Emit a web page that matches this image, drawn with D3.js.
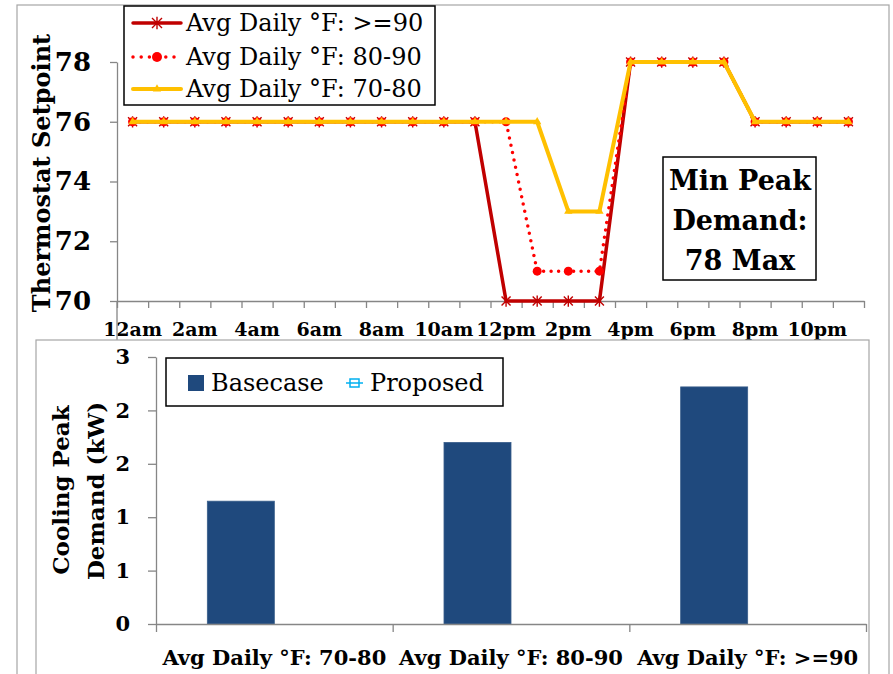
<!DOCTYPE html>
<html><head><meta charset="utf-8">
<script src="https://cdn.jsdelivr.net/npm/d3@7"></script>
<style>
html,body{margin:0;padding:0;background:#fff;}
svg text{font-family:"DejaVu Serif",serif;fill:#000;}
</style></head>
<body><svg id="c" width="893" height="674"></svg>
<script>
// ---------- data ----------
const hourCategories = ["12am","1am","2am","3am","4am","5am","6am","7am","8am","9am","10am","11am",
  "12pm","1pm","2pm","3pm","4pm","5pm","6pm","7pm","8pm","9pm","10pm","11pm"];
const hourTickLabels = ["12am","2am","4am","6am","8am","10am","12pm","2pm","4pm","6pm","8pm","10pm"];
const setpointGe90 = [76,76,76,76,76,76,76,76,76,76,76,76,70,70,70,70,78,78,78,78,76,76,76,76];
const setpoint8090 = [76,76,76,76,76,76,76,76,76,76,76,76,76,71,71,71,78,78,78,78,76,76,76,76];
const setpoint7080 = [76,76,76,76,76,76,76,76,76,76,76,76,76,76,73,73,78,78,78,78,76,76,76,76];
const seriesNames = ["Avg Daily °F: >=90","Avg Daily °F: 80-90","Avg Daily °F: 70-80"];
const setpointTicks = [70,72,74,76,78];

const demandCategories = ["Avg Daily °F: 70-80","Avg Daily °F: 80-90","Avg Daily °F: >=90"];
const barSeries = ["Basecase","Proposed"];
const basecaseKW = [1.15,1.70,2.22];
const proposedKW = [null,null,null];
const demandTickValues = [0,0.5,1,1.5,2,2.5];
const demandTickLabels = ["0","1","1","2","2","3"];
const annotationLines = ["Min Peak","Demand:","78 Max"];

// ---------- drawing ----------
const svg = d3.select("#c");
const gray = "#868686";
const colors = ["#C00000","#FF0000","#FFC000"];

// outer frame (top chart)
svg.append("rect").attr("x",17).attr("y",5).attr("width",872).attr("height",720)
  .attr("fill","#fff").attr("stroke","#A6A6A6").attr("stroke-width",1.2);

// ===== TOP CHART =====
const x = d3.scaleBand().domain(hourCategories).range([117,864]).padding(0);
const xB = d3.scaleLinear().domain([0,hourCategories.length]).range([117,864]);
const y = d3.scaleLinear().domain([70,78]).range([301,62]);
const cx = c => x(c) + x.bandwidth()/2;

// y axis
const gy = svg.append("g").attr("transform","translate(117,0)")
  .call(d3.axisLeft(y).tickValues(setpointTicks).tickSize(7).tickSizeOuter(0).tickPadding(19));
gy.selectAll("text").style("font-size","26px").style("font-weight","bold");
// x axis boundary ticks
const gxt = svg.append("g").attr("transform","translate(0,301)")
  .call(d3.axisBottom(xB).tickValues(d3.range(hourCategories.length+1)).tickSize(7).tickSizeOuter(0).tickFormat(""));
// x labels
const gx = svg.append("g").attr("transform","translate(0,301)")
  .call(d3.axisBottom(x).tickValues(hourTickLabels).tickSize(0).tickPadding(22));
gx.select(".domain").remove();
gx.selectAll("text").style("font-size","19px").style("font-weight","bold");
[gy,gxt].forEach(g=>{g.selectAll("path,line").attr("stroke",gray).attr("stroke-width",1.3);});
// stray vertical line below axis
svg.append("line").attr("x1",117).attr("x2",117).attr("y1",301).attr("y2",340).attr("stroke",gray).attr("stroke-width",1.3);

// y title
svg.append("text").attr("transform","translate(41,173) rotate(-90)")
  .attr("text-anchor","middle").attr("dominant-baseline","central")
  .style("font-size","24px").style("font-weight","bold").text("Thermostat Setpoint");

const line = d3.line().x((d,i)=>cx(hourCategories[i])).y(d=>y(d));

function starPath(r){
  return `M${-r},${-r}L${r},${r}M${-r},${r}L${r},${-r}M0,${-r*1.25}L0,${r*1.25}`;
}

// series 1: >=90
svg.append("path").datum(setpointGe90).attr("d",line).attr("fill","none")
  .attr("stroke",colors[0]).attr("stroke-width",3.5).attr("stroke-linejoin","round");
svg.append("g").selectAll("path").data(setpointGe90).join("path")
  .attr("transform",(d,i)=>`translate(${cx(hourCategories[i])},${y(d)})`)
  .attr("d",starPath(4.5)).attr("stroke",colors[0]).attr("stroke-width",1.4).attr("fill","none");
// series 2: 80-90
svg.append("path").datum(setpoint8090).attr("d",line).attr("fill","none")
  .attr("stroke",colors[1]).attr("stroke-width",3.5).attr("stroke-dasharray","0 7.5").attr("stroke-linecap","round");
svg.append("g").selectAll("circle").data(setpoint8090).join("circle")
  .attr("cx",(d,i)=>cx(hourCategories[i])).attr("cy",d=>y(d)).attr("r",4.5).attr("fill",colors[1]);
// series 3: 70-80
svg.append("path").datum(setpoint7080).attr("d",line).attr("fill","none")
  .attr("stroke",colors[2]).attr("stroke-width",4).attr("stroke-linejoin","round");
svg.append("g").selectAll("path").data(setpoint7080).join("path")
  .attr("transform",(d,i)=>`translate(${cx(hourCategories[i])},${y(d)})`)
  .attr("d",d3.symbol(d3.symbolTriangle,30)).attr("fill",colors[2]);

// legend top
svg.append("rect").attr("x",124).attr("y",6).attr("width",311).attr("height",99)
  .attr("fill","#fff").attr("stroke","#000").attr("stroke-width",1.5);
const rowsY = [23,57,89];
seriesNames.forEach((n,i)=>{
  const ly = rowsY[i];
  const l = svg.append("line").attr("x1",133).attr("x2",181).attr("y1",ly).attr("y2",ly)
    .attr("stroke",colors[i]).attr("stroke-width",i===2?4:3.5).attr("stroke-linecap","round");
  if(i===1) l.attr("stroke-dasharray","0 8.2");
  if(i===0) svg.append("path").attr("transform",`translate(157,${ly})`).attr("d",starPath(5))
    .attr("stroke",colors[0]).attr("stroke-width",1.4).attr("fill","none");
  if(i===1) svg.append("circle").attr("cx",157).attr("cy",ly).attr("r",5).attr("fill",colors[1]);
  if(i===2) svg.append("path").attr("transform",`translate(157,${ly})`).attr("d",d3.symbol(d3.symbolTriangle,30)).attr("fill",colors[2]);
  svg.append("text").attr("x",186).attr("y",ly).attr("dominant-baseline","central")
    .style("font-size","24px").text(n);
});

// annotation box
svg.append("rect").attr("x",663).attr("y",157).attr("width",153).attr("height",123)
  .attr("fill","#fff").attr("stroke","#000").attr("stroke-width",1.5);
annotationLines.forEach((t,i)=>{
  svg.append("text").attr("x",740).attr("y",180+i*40).attr("text-anchor","middle")
    .attr("dominant-baseline","central").style("font-size","27px").style("font-weight","bold").text(t);
});

// ===== BOTTOM CHART =====
svg.append("rect").attr("x",36).attr("y",340).attr("width",833).attr("height",400)
  .attr("fill","#fff").attr("stroke","#A6A6A6").attr("stroke-width",1.2);

const x2 = d3.scaleBand().domain(demandCategories).range([156,866]).padding(0);
const x2B = d3.scaleLinear().domain([0,demandCategories.length]).range([156,866]);
const xs = d3.scaleBand().domain(barSeries).range([0,x2.bandwidth()]).paddingInner(0).paddingOuter(0.766);
const y2 = d3.scaleLinear().domain([0,2.5]).range([624,357]);

svg.append("g").selectAll("rect").data(basecaseKW).join("rect")
  .attr("x",(d,i)=>x2(demandCategories[i])+xs("Basecase"))
  .attr("width",xs.bandwidth()).attr("y",d=>y2(d)).attr("height",d=>y2(0)-y2(d))
  .attr("fill","#1F497D").attr("stroke","#385D8A").attr("stroke-width",0.8);
svg.append("g").selectAll("rect").data(proposedKW.filter(v=>v!=null)).join("rect");

const gy2 = svg.append("g").attr("transform","translate(156,0)")
  .call(d3.axisLeft(y2).tickValues(demandTickValues).tickFormat((d,i)=>demandTickLabels[i])
    .tickSize(8).tickSizeOuter(0).tickPadding(18));
gy2.selectAll("text").style("font-size","21px").style("font-weight","bold");
const gx2t = svg.append("g").attr("transform","translate(0,624)")
  .call(d3.axisBottom(x2B).tickValues(d3.range(demandCategories.length+1)).tickSize(8).tickSizeOuter(0).tickFormat(""));
const gx2 = svg.append("g").attr("transform","translate(0,624)")
  .call(d3.axisBottom(x2).tickSize(0).tickPadding(26));
gx2.select(".domain").remove();
gx2.selectAll("text").style("font-size","21px").style("font-weight","bold");
[gy2,gx2t].forEach(g=>{g.selectAll("path,line").attr("stroke",gray).attr("stroke-width",1.3);});

// bottom y title
svg.append("text").attr("transform","translate(60,490) rotate(-90)")
  .attr("text-anchor","middle").attr("dominant-baseline","central")
  .style("font-size","23px").style("font-weight","bold").text("Cooling Peak");
svg.append("text").attr("transform","translate(95,491) rotate(-90)")
  .attr("text-anchor","middle").attr("dominant-baseline","central")
  .style("font-size","23px").style("font-weight","bold").text("Demand (kW)");

// bottom legend
svg.append("rect").attr("x",166).attr("y",358).attr("width",337).attr("height",48)
  .attr("fill","#fff").attr("stroke","#000").attr("stroke-width",1.5);
svg.append("rect").attr("x",188).attr("y",375).attr("width",16).attr("height",16).attr("fill","#1F497D");
svg.append("text").attr("x",211).attr("y",383).attr("dominant-baseline","central").style("font-size","24px").text(barSeries[0]);
svg.append("line").attr("x1",346).attr("x2",363).attr("y1",383).attr("y2",383).attr("stroke","#00B0F0").attr("stroke-width",1.5);
svg.append("rect").attr("x",350).attr("y",379).attr("width",9).attr("height",8).attr("fill","none").attr("stroke","#00B0F0").attr("stroke-width",1.5);
svg.append("text").attr("x",370).attr("y",383).attr("dominant-baseline","central").style("font-size","24px").text(barSeries[1]);
</script></body></html>
